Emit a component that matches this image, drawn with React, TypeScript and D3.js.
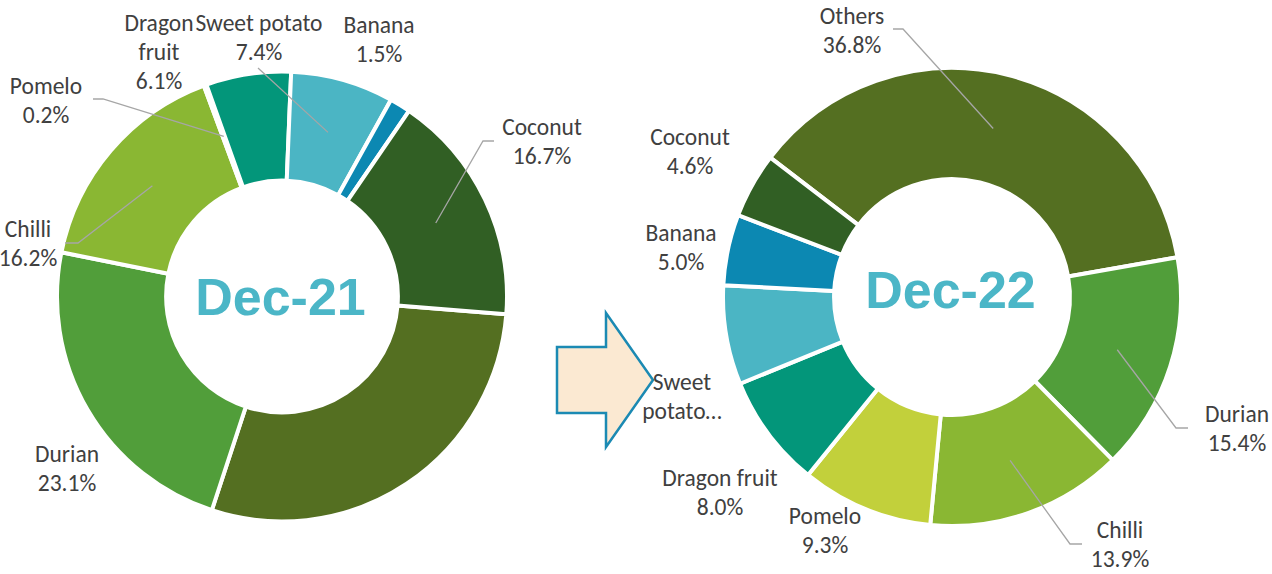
import * as d3 from 'd3';
import { useEffect, useRef } from 'react';

// categories in drawing order (clockwise)
const categories = ['Others', 'Durian', 'Chilli', 'Pomelo', 'Dragon fruit', 'Sweet potato', 'Banana', 'Coconut'];
const dec21Values = [28.8, 23.1, 16.2, 0.2, 6.1, 7.4, 1.5, 16.7];
const dec22Values = [36.8, 15.4, 13.9, 9.3, 8.0, 7.0, 5.0, 4.6];
const periods = ['Dec-21', 'Dec-22'];

const palette = ['#546f21', '#519e3a', '#8ab733', '#c2d03b', '#03967a', '#4bb5c4', '#0c88b2', '#315f24'];

// layout of each donut: centre, radius, first slice angle (deg)
const layouts = [
  {
    cx: 282, cy: 296.5, r: 225, start: 94.5, titleY: 315,
    labels: {
      Durian: { x: 67, y: 462 },
      Chilli: { x: 28, y: 237, leader: [[65, 243], [78, 243]] },
      Pomelo: { x: 46, y: 94, leader: [[93, 99], [103, 99]] },
      'Dragon fruit': { x: 159, y: 31, lines: ['Dragon', 'fruit'] },
      'Sweet potato': { x: 259, y: 31, leader: [[258, 68]] },
      Banana: { x: 379, y: 33 },
      Coconut: { x: 542, y: 135, leader: [[494, 141], [483, 141]] },
    },
  },
  {
    cx: 952, cy: 297, r: 229, start: 307.5, titleY: 308,
    labels: {
      Others: { x: 852, y: 24, leader: [[893, 29], [903, 29]] },
      Durian: { x: 1237, y: 422, leader: [[1188, 428], [1176, 428]] },
      Chilli: { x: 1120, y: 538, leader: [[1082, 544], [1070, 544]] },
      Pomelo: { x: 825, y: 524 },
      'Dragon fruit': { x: 720, y: 486 },
      'Sweet potato': { x: 682, y: 390, lines: ['Sweet', 'potato…'], noValue: true },
      Banana: { x: 681, y: 241 },
      Coconut: { x: 690, y: 145 },
    },
  },
];

const W = 1272;
const H = 574;

const App = () => {
  const svgRef = useRef(null);

  useEffect(() => {
    const svg = d3.select(svgRef.current);
    svg.selectAll('*').remove();

    const color = d3.scaleOrdinal<string, string>().domain(categories).range(palette);
    const fmt = d3.format('.1f');
    const rad = Math.PI / 180;

    [dec21Values, dec22Values].forEach((values, i) => {
      const lay = layouts[i];
      const rows = categories.map((c, k) => ({ name: c, value: values[k] }));
      const pie = d3.pie<any>()
        .sort(null)
        .value((d) => d.value)
        .startAngle(lay.start * rad)
        .endAngle((lay.start + 360) * rad);
      const arc = d3.arc<any>().innerRadius(lay.r * 0.515).outerRadius(lay.r);
      const arcs = pie(rows);

      const g = svg.append('g').attr('transform', `translate(${lay.cx},${lay.cy})`);

      g.selectAll('path.slice')
        .data(arcs)
        .enter()
        .append('path')
        .attr('class', 'slice')
        .attr('d', arc)
        .attr('fill', (d) => color(d.data.name))
        .attr('stroke', '#fff')
        .attr('stroke-width', 4)
        .attr('stroke-linejoin', 'round');

      // leader lines
      arcs.forEach((a) => {
        const lab = lay.labels[a.data.name];
        if (!lab || !lab.leader) return;
        const [mx, my] = arc.centroid(a);
        const pts = [...lab.leader, [mx + lay.cx, my + lay.cy]];
        svg.append('path')
          .attr('d', d3.line()(pts))
          .attr('fill', 'none')
          .attr('stroke', '#a6a6a6')
          .attr('stroke-width', 1.3);
      });

      // labels
      arcs.forEach((a) => {
        const lab = lay.labels[a.data.name];
        if (!lab) return;
        const lines = [...(lab.lines || [a.data.name])];
        if (!lab.noValue) lines.push(fmt(a.data.value) + '%');
        const t = svg.append('text')
          .attr('text-anchor', 'middle')
          .attr('font-family', 'Carlito, Calibri, "Open Sans", sans-serif')
          .attr('font-size', 23.5)
          .attr('fill', '#404040');
        lines.forEach((ln, k) => {
          t.append('tspan').attr('x', lab.x).attr('y', lab.y + k * 29).text(ln);
        });
      });

      svg.append('text')
        .attr('x', lay.cx - 1.5)
        .attr('y', lay.titleY)
        .attr('text-anchor', 'middle')
        .attr('font-family', '"Liberation Sans", Arial, sans-serif')
        .attr('font-weight', 'bold')
        .attr('font-size', 52)
        .attr('fill', '#4bb6c7')
        .text(periods[i]);
    });

    // arrow between the two donuts
    const arrow: [number, number][] = [
      [557, 347], [606, 347], [606, 313], [653, 380], [606, 447], [606, 413], [557, 413],
    ];
    svg.insert('path', ':first-child')
      .attr('d', d3.line()(arrow) + 'Z')
      .attr('fill', '#fbe9d2')
      .attr('stroke', '#1b8ab3')
      .attr('stroke-width', 2.5)
      .attr('stroke-linejoin', 'miter');
  }, []);

  return (
    <svg
      ref={svgRef}
      width={W}
      height={H}
      style={{ position: 'absolute', left: 0, top: 0, background: '#fff' }}
    />
  );
};

export default App;
